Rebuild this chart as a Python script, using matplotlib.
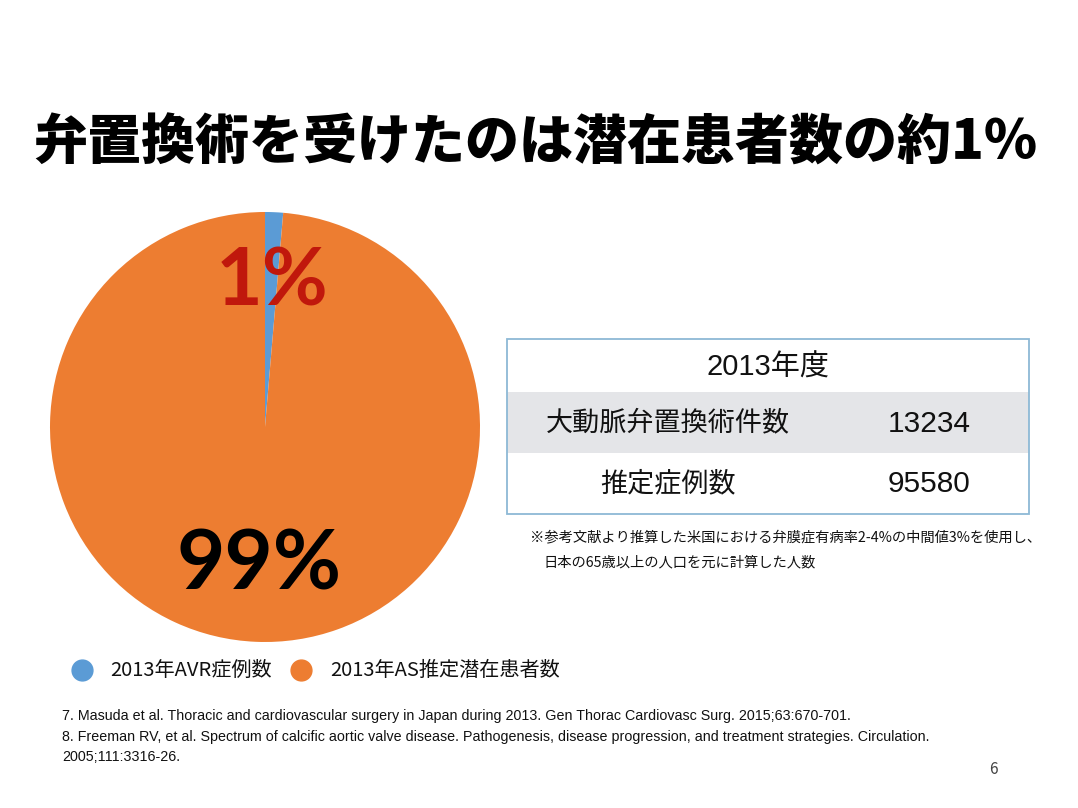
import matplotlib
matplotlib.use("Agg")
import matplotlib.pyplot as plt
from matplotlib.lines import Line2D
from matplotlib.patches import Rectangle

plt.rcParams['font.family'] = ['Noto Sans CJK JP', 'DejaVu Sans']

W, H = 1078, 808

# ---- data ----
title = "弁置換術を受けたのは潜在患者数の約1%"
pie_labels = ["2013年AVR症例数", "2013年AS推定潜在患者数"]
pie_values = [1.35, 98.65]
pie_texts = ["1%", "99%"]
pie_colors = ["#5B9BD5", "#ED7D31"]
table_header = "2013年度"
table_rows = ["大動脈弁置換術件数", "推定症例数"]
table_values = [13234, 95580]
note_lines = ["※参考文献より推算した米国における弁膜症有病率2-4%の中間値3%を使用し、",
              "日本の65歳以上の人口を元に計算した人数"]
refs = ["7. Masuda et al. Thoracic and cardiovascular surgery in Japan during 2013. Gen Thorac Cardiovasc Surg. 2015;63:670-701.",
        "8. Freeman RV, et al. Spectrum of calcific aortic valve disease. Pathogenesis, disease progression, and treatment strategies. Circulation.",
        "2005;111:3316-26."]
page_no = "6"

fig = plt.figure(figsize=(W / 100, H / 100), dpi=100)
fig.patch.set_facecolor("white")

def fx(x):
    return x / W

def fy(y):
    return 1 - y / H

def ftext(x, y, s, **kw):
    fig.text(fx(x), fy(y), s, **kw)

# title
ftext(535, 143, title, ha="center", va="center", fontsize=38.9, fontweight=900, color="black")

# pie
cx, cy, r = 265, 427, 215
ax = fig.add_axes([fx(cx - r), fy(cy + r), 2 * r / W, 2 * r / H])
ax.pie(pie_values, colors=pie_colors, startangle=90, counterclock=False,
       wedgeprops=dict(linewidth=0))
ax.set_xlim(-1, 1)
ax.set_ylim(-1, 1)
ax.set_aspect("auto")
ax.axis("off")

ftext(272, 283, pie_texts[0], ha="center", va="center", fontsize=58, fontweight="bold",
      color="#C0180C", family=["Lato", "DejaVu Sans"])
ftext(259, 566, pie_texts[1], ha="center", va="center", fontsize=60, fontweight="bold",
      color="black", family=["Lato", "DejaVu Sans"])

# table
tx0, tx1 = 507, 1029
ty = [339, 392, 453, 514]
fig.patches.append(Rectangle((fx(tx0), fy(ty[2])), fx(tx1 - tx0), (ty[2] - ty[1]) / H,
                             transform=fig.transFigure, facecolor="#E4E5E8", edgecolor="none"))
fig.patches.append(Rectangle((fx(tx0), fy(ty[3])), fx(tx1 - tx0), (ty[3] - ty[0]) / H,
                             transform=fig.transFigure, facecolor="none", edgecolor="#8DB9D6",
                             linewidth=1.3))
tfs = 19.5
numfam = ["Liberation Sans", "Noto Sans CJK JP"]
ftext(768, (ty[0] + ty[1]) / 2 + 2, table_header, ha="center", va="center", fontsize=21,
      color="#111111", family=numfam)
for i, (lab, val) in enumerate(zip(table_rows, table_values)):
    yc = (ty[i + 1] + ty[i + 2]) / 2
    ftext(668, yc, lab, ha="center", va="center", fontsize=tfs, color="#111111")
    ftext(929, yc + 1, str(val), ha="center", va="center", fontsize=21.5, color="#111111",
          family=numfam)

# note
ftext(530, 537, note_lines[0], ha="left", va="center", fontsize=10.3, color="#111111")
ftext(543, 562, note_lines[1], ha="left", va="center", fontsize=10.3, color="#111111")

# legend
leg_x = [82, 301]
txt_x = [110, 330]
for i in range(2):
    fig.lines.append(Line2D([fx(leg_x[i])], [fy(670)], marker="o", markersize=15,
                            color=pie_colors[i], linestyle="none", transform=fig.transFigure))
    ftext(txt_x[i], 670, pie_labels[i], ha="left", va="center", fontsize=14.5, color="#111111")

# references
for i, line in enumerate(refs):
    ftext(62, 716 + i * 20.5, line, ha="left", va="center", fontsize=10.3, color="#111111",
          family=["Liberation Sans", "DejaVu Sans"])

ftext(993, 770, page_no, ha="center", va="center", fontsize=11, color="#444444")

fig.savefig("out.png", dpi=100, facecolor="white")
